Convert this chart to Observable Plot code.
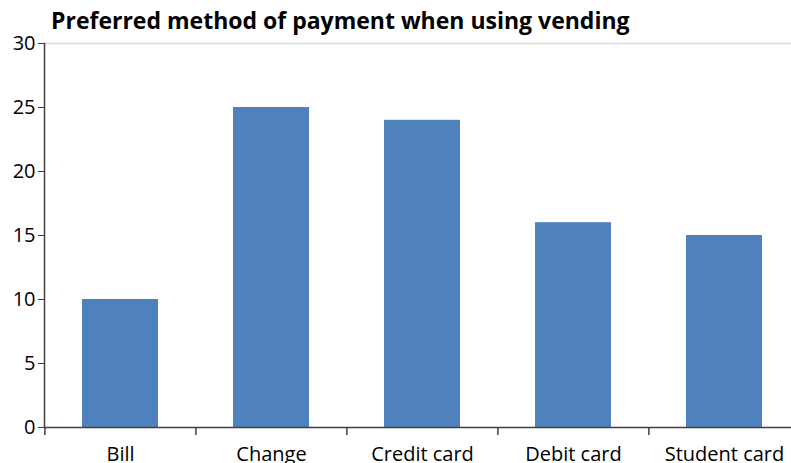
<!DOCTYPE html>
<html><head><meta charset="utf-8">
<script src="https://cdn.jsdelivr.net/npm/d3@7"></script>
<script src="https://cdn.jsdelivr.net/npm/@observablehq/plot@0.6"></script>
<style>
body{margin:0;background:#fff;}
#wrap{position:relative;width:791px;height:463px;overflow:hidden;}
#title{position:absolute;left:51px;top:4px;font-family:"Open Sans",sans-serif;font-weight:bold;font-size:23px;color:#000;white-space:nowrap;}
</style></head>
<body><div id="wrap"><div id="title">Preferred method of payment when using vending</div></div>
<script>
const categories = ["Bill", "Change", "Credit card", "Debit card", "Student card"];
const values = [10, 25, 24, 16, 15];
const yTicks = [0, 5, 10, 15, 20, 25, 30];

const data = categories.map((c, i) => ({category: c, value: values[i]}));
const xRange = [44, 800];
const step = (xRange[1] - xRange[0]) / categories.length;

const chart = Plot.plot({
  width: 791, height: 463,
  marginTop: 43, marginBottom: 36, marginLeft: 44, marginRight: 0,
  style: {fontFamily: "'Open Sans', sans-serif", fontSize: "20px", color: "#000", background: "#fff"},
  x: {domain: categories, range: xRange, paddingInner: 0.5, paddingOuter: 0.25, align: 0.5, label: null},
  y: {domain: [0, 30], label: null},
  marks: [
    Plot.ruleY([30], {stroke: "#d9d9d9", strokeWidth: 1.5}),
    Plot.barY(data, {x: "category", y: "value", fill: "#4F81BD"}),
    Plot.axisY({ticks: yTicks, tickSize: 6, tickPadding: 3, stroke: "#404040", fontSize: 20, fill: "#000"}),
    Plot.axisX({tickSize: 0, tickPadding: 19, fontSize: 20, fill: "#000"}),
    Plot.ruleX(categories, {x: d => d, y1: 0, y2: 0, insetBottom: -8, dx: -step / 2, stroke: "#404040", strokeWidth: 1.5}),
    Plot.frame({anchor: "left", stroke: "#404040", strokeWidth: 1.5}),
    Plot.ruleY([0], {stroke: "#404040", strokeWidth: 1.5})
  ]
});
document.getElementById("wrap").prepend(chart);
</script></body></html>
